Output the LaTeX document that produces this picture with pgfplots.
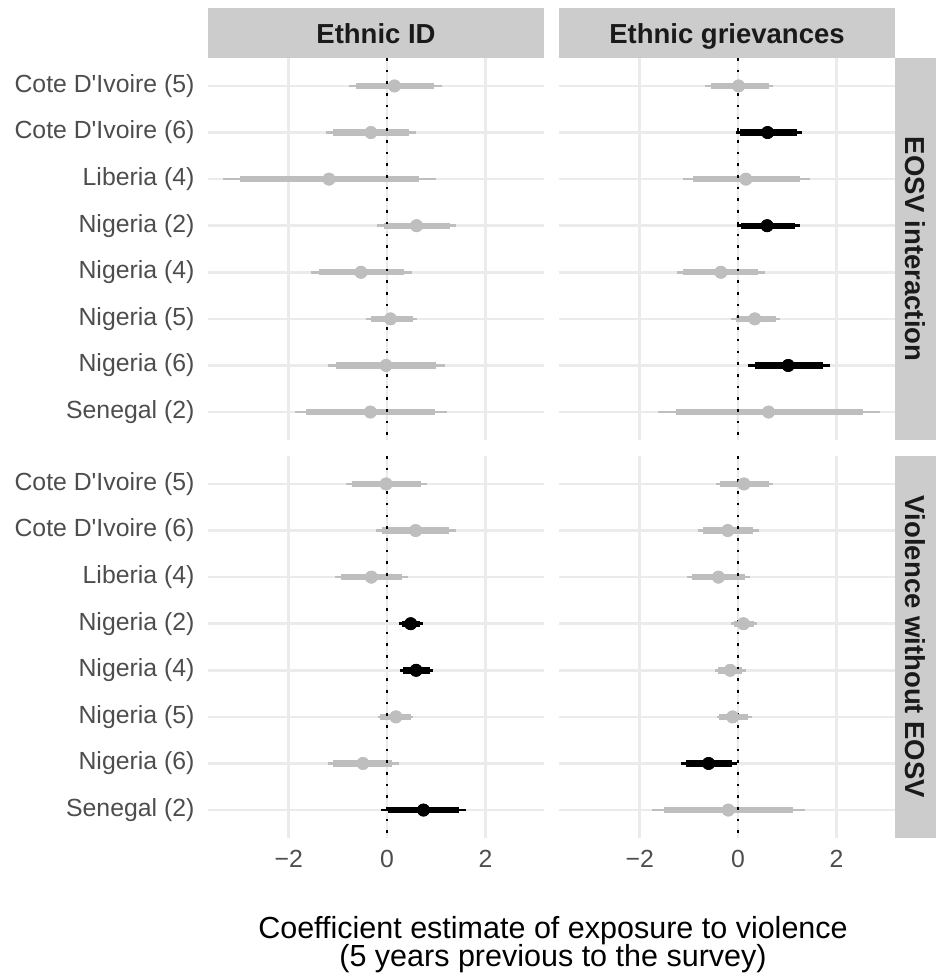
\documentclass[border=0pt]{standalone}
\usepackage{pgfplots}
\usepackage{pgfplotstable}
\pgfplotsset{compat=1.18}
\usepackage{fontspec}
\setmainfont{Liberation Sans}

\definecolor{gridgray}{HTML}{EBEBEB}
\definecolor{stripgray}{HTML}{CCCCCC}
\definecolor{ptgray}{HTML}{BEBEBE}
\definecolor{ticktext}{HTML}{4D4D4D}
\definecolor{striptext}{HTML}{1A1A1A}

% est = coefficient; lo95/hi95 = outer interval; lo90/hi90 = inner interval;
% sig = 1 when the interval is drawn in black
\pgfplotstableread{
row est lo95 lo90 hi90 hi95 sig
1  0.15 -0.78 -0.63 0.96 1.11 0
2 -0.33 -1.24 -1.09 0.45 0.59 0
3 -1.18 -3.33 -2.98 0.65 0.99 0
4  0.60 -0.20 -0.07 1.28 1.41 0
5 -0.53 -1.55 -1.38 0.34 0.50 0
6  0.07 -0.43 -0.33 0.53 0.61 0
7 -0.02 -1.21 -1.03 0.99 1.18 0
8 -0.34 -1.88 -1.64 0.97 1.21 0
}\eosvid

\pgfplotstableread{
row est lo95 lo90 hi90 hi95 sig
1  0.01 -0.67 -0.55 0.62 0.72 0
2  0.60 -0.05  0.04 1.19 1.29 1
3  0.16 -1.12 -0.91 1.26 1.46 0
4  0.59 -0.03  0.06 1.16 1.26 1
5 -0.35 -1.24 -1.11 0.41 0.55 0
6  0.34 -0.14 -0.05 0.77 0.85 0
7  1.02  0.21  0.34 1.73 1.87 1
8  0.62 -1.63 -1.26 2.53 2.88 0
}\eosvgr

\pgfplotstableread{
row est lo95 lo90 hi90 hi95 sig
1 -0.02 -0.84 -0.72 0.68 0.82 0
2  0.58 -0.22 -0.11 1.26 1.40 0
3 -0.32 -1.05 -0.94 0.30 0.43 0
4  0.48  0.25  0.30 0.67 0.74 1
5  0.59  0.26  0.33 0.87 0.94 1
6  0.18 -0.19 -0.14 0.48 0.53 0
7 -0.49 -1.21 -1.10 0.11 0.25 0
8  0.74 -0.12  0.01 1.47 1.61 1
}\violid

\pgfplotstableread{
row est lo95 lo90 hi90 hi95 sig
1  0.12 -0.45 -0.37  0.62  0.70 0
2 -0.21 -0.82 -0.72  0.31  0.43 0
3 -0.40 -1.04 -0.94  0.14  0.24 0
4  0.11 -0.14 -0.09  0.32  0.38 0
5 -0.16 -0.47 -0.41  0.09  0.16 0
6 -0.11 -0.43 -0.38  0.21  0.28 0
7 -0.60 -1.16 -1.05 -0.13 -0.03 1
8 -0.20 -1.75 -1.50  1.12  1.36 0
}\violgr

\pgfplotsset{
  panel/.style={
    scale only axis, width=168bp, height=191bp,
    xmin=-3.64, xmax=3.19, ymin=0.4, ymax=8.6, y dir=reverse,
    axis line style={draw=none}, major tick length=0pt,
    xtick={-2,0,2}, ytick={1,2,3,4,5,6,7,8},
    xmajorgrids, ymajorgrids,
    major grid style={draw=gridgray, line width=1.3bp},
    xticklabels={}, yticklabels={},
    ticklabel style={font=\fontsize{12.4bp}{14bp}\selectfont, text=ticktext},
    xticklabel style={yshift=-2.5bp},
    yticklabel style={xshift=-3.3bp},
    anchor=north west,
  },
  zero line/.style={black, line width=1.3bp, dash pattern=on 1.3bp off 4.55bp},
}

\newcommand\countries{Cote D\textquotesingle Ivoire (5), Cote D\textquotesingle Ivoire (6), Liberia (4), Nigeria (2), Nigeria (4), Nigeria (5), Nigeria (6), Senegal (2)}

% outer interval, inner interval and point estimate for the rows whose
% sig column lies in #2 (a domain such as -0.5:0.5), drawn in colour #3
\newcommand\intervals[3]{%
  \addplot[#3, only marks, mark=*, mark size=3bp,
    restrict expr to domain={\thisrow{sig}}{#2},
    error bars/.cd, x dir=both, x explicit, error mark=none,
    error bar style={line width=1.35bp}]
    table[x=est, y=row, x error plus expr=\thisrow{hi95}-\thisrow{est},
          x error minus expr=\thisrow{est}-\thisrow{lo95}]{#1};
  \addplot[#3, only marks, mark=*, mark size=3bp,
    restrict expr to domain={\thisrow{sig}}{#2},
    error bars/.cd, x dir=both, x explicit, error mark=none,
    error bar style={line width=3.2bp}]
    table[x=est, y=row, x error plus expr=\thisrow{hi90}-\thisrow{est},
          x error minus expr=\thisrow{est}-\thisrow{lo90}]{#1};
}

\begin{document}
\begin{tikzpicture}
\path[use as bounding box] (0,0) rectangle (468bp,-489.5bp);

% facet strips
\fill[stripgray] (104bp,-4bp) rectangle (272bp,-29bp);
\fill[stripgray] (279.5bp,-4bp) rectangle (447.5bp,-29bp);
\fill[stripgray] (447.5bp,-29bp) rectangle (468bp,-220bp);
\fill[stripgray] (447.5bp,-228bp) rectangle (468bp,-419bp);
\begin{scope}[every node/.style={font=\bfseries\fontsize{13.75bp}{16bp}\selectfont, text=striptext}]
\node[anchor=base] at (188bp,-21.5bp) {Ethnic ID};
\node[anchor=base] at (363.5bp,-21.5bp) {Ethnic grievances};
\node[rotate=-90] at (457.75bp,-124.5bp) {EOSV interaction};
\node[rotate=-90] at (457.75bp,-323.5bp) {Violence without EOSV};
\end{scope}

% EOSV interaction, Ethnic ID
\begin{axis}[panel, at={(104bp,-29bp)}, yticklabels/.expanded={\countries}]
\intervals{\eosvid}{-0.5:0.5}{ptgray}
\addplot[zero line] coordinates {(0,0.4) (0,8.6)};
\end{axis}

% EOSV interaction, Ethnic grievances
\begin{axis}[panel, at={(279.5bp,-29bp)}]
\intervals{\eosvgr}{-0.5:0.5}{ptgray}
\intervals{\eosvgr}{0.5:1.5}{black}
\addplot[zero line] coordinates {(0,0.4) (0,8.6)};
\end{axis}

% Violence without EOSV, Ethnic ID
\begin{axis}[panel, at={(104bp,-228bp)}, yticklabels/.expanded={\countries},
  xticklabels={−2,0,2}]
\intervals{\violid}{-0.5:0.5}{ptgray}
\intervals{\violid}{0.5:1.5}{black}
\addplot[zero line] coordinates {(0,0.4) (0,8.6)};
\end{axis}

% Violence without EOSV, Ethnic grievances
\begin{axis}[panel, at={(279.5bp,-228bp)}, xticklabels={−2,0,2}]
\intervals{\violgr}{-0.5:0.5}{ptgray}
\intervals{\violgr}{0.5:1.5}{black}
\addplot[zero line] coordinates {(0,0.4) (0,8.6)};
\end{axis}

% x-axis title
\node[anchor=base, inner sep=0pt, font=\fontsize{15.25bp}{17bp}\selectfont] at (276.5bp,-469bp)
  {Coefficient estimate of exposure to violence};
\node[anchor=base, inner sep=0pt, font=\fontsize{15.25bp}{17bp}\selectfont] at (276.5bp,-483bp)
  {(5 years previous to the survey)};
\end{tikzpicture}
\end{document}
